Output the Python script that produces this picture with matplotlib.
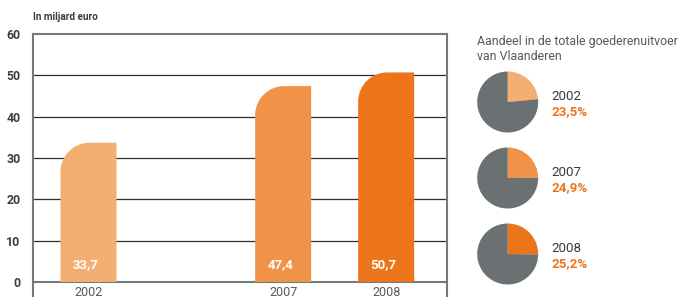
import matplotlib
matplotlib.use("Agg")
import matplotlib.pyplot as plt
from matplotlib.path import Path
from matplotlib.patches import PathPatch

plt.rcParams['font.family'] = ['Roboto', 'DejaVu Sans']

years = ['2002', '2007', '2008']
values = [33.7, 47.4, 50.7]
value_labels = ['33,7', '47,4', '50,7']
shares = [23.5, 24.9, 25.2]
share_labels = ['23,5%', '24,9%', '25,2%']
y_ticks = [0, 10, 20, 30, 40, 50, 60]

bar_colors = ['#F5AE72', '#F09349', '#EC751C']
pie_grey = '#6B7173'
frame_grey = '#737a7c'
text_dark = '#3a3d40'

W, H = 684, 297
fig = plt.figure(figsize=(W / 100, H / 100), dpi=100)

# bar axes: left 33px, right 447px, top 34px (=60), 0 at 282px
px_per_unit = (282 - 34) / 60.0
ymin = -(310 - 282) / px_per_unit
ax_left, ax_right = 33, 447
ax_top, ax_bottom = 34, 310
ax = fig.add_axes([ax_left / W, 1 - ax_bottom / H, (ax_right - ax_left) / W, (ax_bottom - ax_top) / H])
ax.set_ylim(ymin, 60)

positions = [0, 1.89, 2.89]
unit_px = 103.0
ax.set_xlim(-(88.5 - ax_left) / unit_px, (ax_right - 88.5) / unit_px)
bw = 56 / unit_px

for y in y_ticks[1:-1]:
    ax.axhline(y, color='#2e2e2e', lw=0.9, zorder=1)
ax.axhline(0, color=frame_grey, lw=1.5, zorder=1)

for s in ['top', 'left', 'right']:
    ax.spines[s].set_color(frame_grey)
    ax.spines[s].set_linewidth(1.5)
ax.spines['bottom'].set_visible(False)

rx = 29 / unit_px
ry = 29 / px_per_unit
k = 0.5523
for p, v, c, lab in zip(positions, values, bar_colors, value_labels):
    x0 = p - bw / 2
    x1 = p + bw / 2
    verts = [
        (x0, 0), (x1, 0), (x1, v), (x0 + rx, v),
        (x0 + rx - k * rx, v), (x0, v - ry + k * ry), (x0, v - ry),
        (x0, 0), (x0, 0)
    ]
    codes = [Path.MOVETO, Path.LINETO, Path.LINETO, Path.LINETO,
             Path.CURVE4, Path.CURVE4, Path.CURVE4,
             Path.LINETO, Path.CLOSEPOLY]
    ax.add_patch(PathPatch(Path(verts, codes), facecolor=c, edgecolor='none', zorder=2))
    ax.text(p - 0.03, 4.3, lab, color='white', fontsize=9.5, fontweight='bold',
            ha='center', va='center', zorder=3)

for p, yr in zip(positions, years):
    ax.text(p, -(293 - 282) / px_per_unit, yr, color='#555a5c', fontsize=9,
            ha='center', va='center', clip_on=False)

ax.set_xticks([])
ax.set_yticks(y_ticks)
ax.set_yticklabels([str(t) for t in y_ticks], fontsize=8.8, fontweight='bold', color=text_dark)
ax.tick_params(axis='y', length=0, pad=9)

fig.text(33 / W, 1 - 17 / H, 'In miljard euro', fontsize=7.2, fontweight='bold',
         color=text_dark, ha='left', va='center')

# right-hand panel
fig.text(477 / W, 1 - 42 / H, 'Aandeel in de totale goederenuitvoer', fontsize=8.9,
         color='#55595c', ha='left', va='center')
fig.text(477 / W, 1 - 57 / H, 'van Vlaanderen', fontsize=8.9,
         color='#55595c', ha='left', va='center')

pie_centers_y = [102, 178, 254]
r = 30.5
for cy, sh, c, yr, sl in zip(pie_centers_y, shares, bar_colors, years, share_labels):
    pax = fig.add_axes([(507.7 - r) / W, 1 - (cy + r) / H, 2 * r / W, 2 * r / H])
    pax.pie([sh, 100 - sh], colors=[c, pie_grey], startangle=90, counterclock=False,
            wedgeprops=dict(linewidth=0), radius=1)
    pax.set_xlim(-1, 1)
    pax.set_ylim(-1, 1)
    pax.set_aspect('equal')
    fig.text(551 / W, 1 - (cy - 5) / H, yr, fontsize=9.6, color=text_dark,
             ha='left', va='center')
    fig.text(551 / W, 1 - (cy + 10) / H, sl, fontsize=9.6, fontweight='bold',
             color='#EC751C', ha='left', va='center')

fig.savefig('out.png', dpi=100)
